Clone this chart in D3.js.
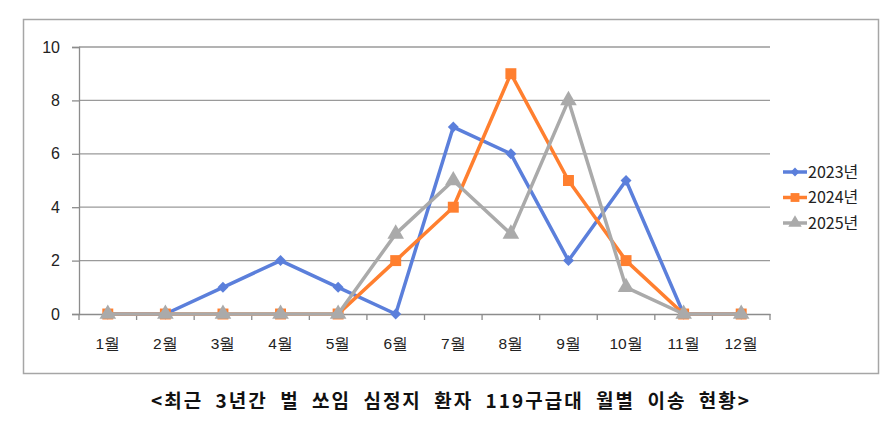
<!DOCTYPE html>
<html>
<head>
<meta charset="utf-8">
<script src="https://cdn.jsdelivr.net/npm/d3@7"></script>
<style>
  body { margin: 0; background: #fff; }
  svg { display: block; font-family: "Noto Sans CJK KR", "Noto Sans", sans-serif; }
</style>
</head>
<body>
<svg id="chart" width="895" height="430"></svg>
<script>
// data
var months = ['1월', '2월', '3월', '4월', '5월', '6월', '7월', '8월', '9월', '10월', '11월', '12월'];
var yTicks = [0, 2, 4, 6, 8, 10];
var seriesNames = ['2023년', '2024년', '2025년'];
var values2023 = [0, 0, 1, 2, 1, 0, 7, 6, 2, 5, 0, 0];
var values2024 = [0, 0, 0, 0, 0, 2, 4, 9, 5, 2, 0, 0];
var values2025 = [0, 0, 0, 0, 0, 3, 5, 3, 8, 1, 0, 0];
var title = '<최근 3년간 벌 쏘임 심정지 환자 119구급대 월별 이송 현황>';

var colors = ['#5b7fdb', '#ff7f2f', '#aaaaaa'];
// marker: symbol type, size, rotation
var markers = [
    { type: d3.symbolSquare, size: 60, rotate: 45 },
    { type: d3.symbolSquare, size: 120, rotate: 0 },
    { type: d3.symbolTriangle, size: 120, rotate: 0 }
];
var series = [values2023, values2024, values2025].map(function (v, i) {
    return { name: seriesNames[i], values: v, color: colors[i], marker: markers[i] };
});

var svg = d3.select('#chart');

// outer frame
svg.append('rect')
    .attr('x', 23.5).attr('y', 19.5)
    .attr('width', 855).attr('height', 354)
    .attr('fill', 'none')
    .attr('stroke', '#a6a6a6')
    .attr('stroke-width', 1.5);

var plot = { left: 79, right: 770, top: 47, bottom: 314 };

var x = d3.scaleBand().domain(months).range([plot.left, plot.right]);
var y = d3.scaleLinear().domain([0, 10]).range([plot.bottom, plot.top]);

// gridlines
svg.append('g')
    .selectAll('line')
    .data(yTicks.filter(function (d) { return d > 0; }))
    .enter()
    .append('line')
    .attr('x1', plot.left).attr('x2', plot.right)
    .attr('y1', function (d) { return y(d); })
    .attr('y2', function (d) { return y(d); })
    .attr('stroke', '#9a9a9a')
    .attr('stroke-width', 1.3);

// y axis
var yAxis = svg.append('g')
    .attr('transform', 'translate(' + plot.left + ',0)')
    .call(d3.axisLeft(y).tickValues(yTicks).tickSize(7).tickPadding(12));
yAxis.select('.domain').attr('stroke', '#8c8c8c').attr('stroke-width', 1.3);
yAxis.selectAll('.tick line').attr('stroke', '#8c8c8c').attr('stroke-width', 1.3);
yAxis.selectAll('.tick text')
    .attr('font-size', 16)
    .attr('fill', '#222')
    .attr('font-family', '"Liberation Sans", Arial, sans-serif');

// x axis
var xAxis = svg.append('g')
    .attr('transform', 'translate(0,' + plot.bottom + ')')
    .call(d3.axisBottom(x).tickSize(0).tickPadding(24));
xAxis.select('.domain').attr('stroke', '#8c8c8c').attr('stroke-width', 1.3);
xAxis.selectAll('.tick text')
    .attr('font-size', 15.5)
    .attr('fill', '#222');

// category boundary ticks
svg.append('g')
    .selectAll('line')
    .data(d3.range(months.length + 1))
    .enter()
    .append('line')
    .attr('x1', function (i) { return plot.left + i * x.step(); })
    .attr('x2', function (i) { return plot.left + i * x.step(); })
    .attr('y1', plot.bottom).attr('y2', plot.bottom + 6)
    .attr('stroke', '#8c8c8c')
    .attr('stroke-width', 1.3);

// lines and markers
var line = d3.line()
    .x(function (d, i) { return x(months[i]) + x.bandwidth() / 2; })
    .y(function (d) { return y(d); });

series.forEach(function (s) {
    var g = svg.append('g').attr('class', 'series');
    g.append('path')
        .datum(s.values)
        .attr('d', line)
        .attr('fill', 'none')
        .attr('stroke', s.color)
        .attr('stroke-width', 3.5)
        .attr('stroke-linejoin', 'round');
    g.selectAll('path.marker')
        .data(s.values)
        .enter()
        .append('path')
        .attr('class', 'marker')
        .attr('d', d3.symbol().type(s.marker.type).size(s.marker.size))
        .attr('transform', function (d, i) {
            return 'translate(' + (x(months[i]) + x.bandwidth() / 2) + ',' + y(d) + ') rotate(' + s.marker.rotate + ')';
        })
        .attr('fill', s.color);
});

// legend
var legend = svg.append('g').attr('transform', 'translate(783,172)');
series.forEach(function (s, i) {
    var row = legend.append('g').attr('transform', 'translate(0,' + (i * 25.5) + ')');
    row.append('line')
        .attr('x1', 0).attr('x2', 24)
        .attr('stroke', s.color)
        .attr('stroke-width', 3.5);
    row.append('path')
        .attr('d', d3.symbol().type(s.marker.type).size(s.marker.size * 0.65))
        .attr('transform', 'translate(12,0) rotate(' + s.marker.rotate + ')')
        .attr('fill', s.color);
    row.append('text')
        .attr('x', 25).attr('y', 0)
        .attr('dy', '0.35em')
        .attr('font-size', 16)
        .attr('fill', '#222')
        .text(s.name);
});

// title: widen the gaps between words until it spans the same width as the original
var titleText = svg.append('text')
    .attr('x', 451).attr('y', 401)
    .attr('dy', '0.35em')
    .attr('text-anchor', 'middle')
    .attr('font-size', 19)
    .attr('font-weight', 'bold')
    .attr('fill', '#111')
    .style('letter-spacing', '2px')
    .text(title);
var gaps = title.split(' ').length - 1;
var extra = (600 - titleText.node().getComputedTextLength()) / gaps;
titleText.style('word-spacing', Math.max(0, extra) + 'px');
</script>
</body>
</html>
